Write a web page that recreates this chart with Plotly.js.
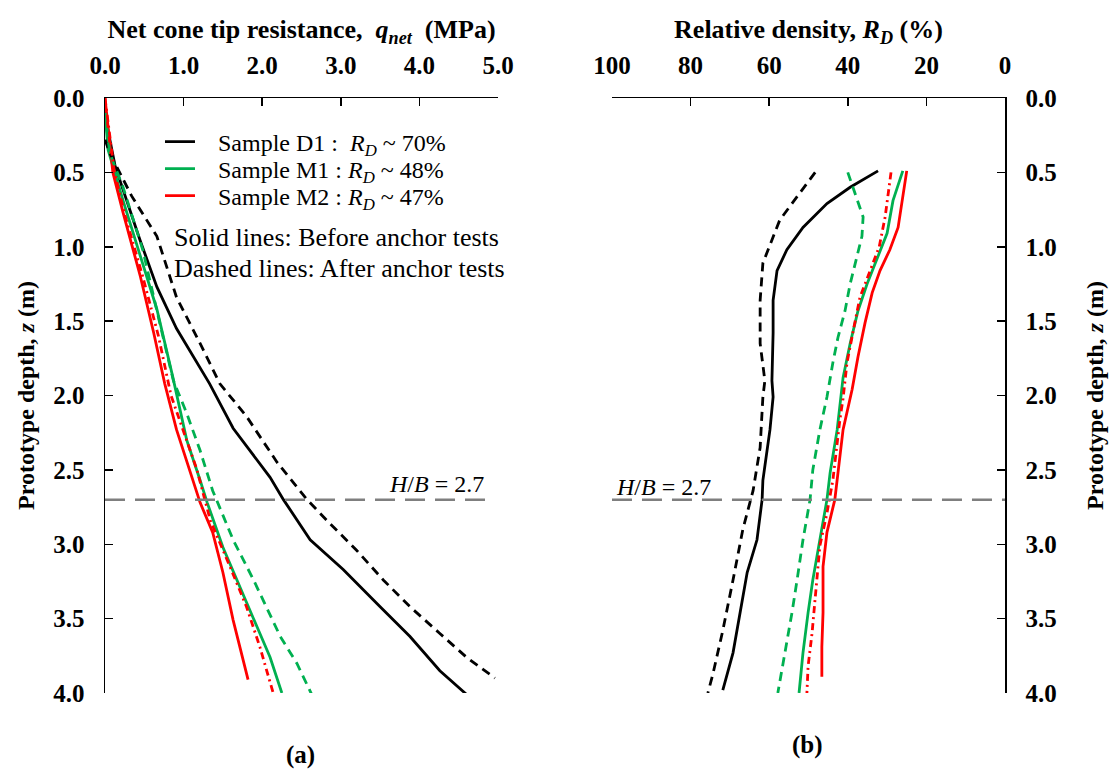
<!DOCTYPE html>
<html>
<head>
<meta charset="utf-8">
<script src="https://cdn.plot.ly/plotly-3.0.1.min.js"></script>
<style>html,body{margin:0;padding:0;background:#fff;}#chart{width:1118px;height:772px;}</style>
</head>
<body>
<div id="chart"></div>
<script>
// ---------- (a) Net cone tip resistance q_net (MPa) vs depth z (m) ----------
const D1_before_z = [0.05, 0.17, 0.46, 0.955, 1.27, 1.55, 1.92, 2.22, 2.55, 2.70, 2.97, 3.17, 3.42, 3.62, 3.85, 4.01];
const D1_before_q = [0.00, 0.02, 0.13, 0.445, 0.66, 0.91, 1.33, 1.63, 2.10, 2.27, 2.61, 3.03, 3.50, 3.88, 4.26, 4.60];
const D1_after_z  = [0.28, 0.37, 0.66, 0.93, 1.34, 1.65, 1.92, 2.14, 2.45, 2.70, 2.86, 3.04, 3.24, 3.42, 3.60, 3.76, 3.90];
const D1_after_q  = [0.00, 0.06, 0.34, 0.66, 0.91, 1.21, 1.46, 1.80, 2.19, 2.57, 2.86, 3.20, 3.54, 3.88, 4.26, 4.60, 4.96];
const M1_before_z = [0.10, 0.35, 0.69, 1.07, 1.42, 1.87, 2.30, 2.57, 2.72, 3.02, 3.29, 3.60, 3.76, 4.00];
const M1_before_q = [0.00, 0.04, 0.23, 0.45, 0.66, 0.86, 1.04, 1.21, 1.30, 1.50, 1.72, 1.97, 2.10, 2.25];
const M1_after_z  = [0.10, 0.37, 0.60, 1.02, 1.61, 1.90, 2.12, 2.37, 2.64, 2.97, 3.24, 3.62, 3.80, 4.01];
const M1_after_q  = [0.00, 0.06, 0.23, 0.48, 0.74, 0.87, 1.04, 1.21, 1.37, 1.63, 1.89, 2.23, 2.44, 2.63];
const M2_before_z = [0.00, 0.50, 0.77, 1.20, 1.58, 1.92, 2.23, 2.50, 2.72, 2.92, 3.19, 3.51, 3.78, 3.91];
const M2_before_q = [0.00, 0.10, 0.23, 0.45, 0.62, 0.76, 0.91, 1.08, 1.21, 1.37, 1.50, 1.63, 1.76, 1.82];
const M2_after_z  = [0.00, 0.50, 0.80, 1.20, 1.60, 2.00, 2.50, 2.84, 3.15, 3.42, 3.69, 4.00];
const M2_after_q  = [0.00, 0.12, 0.26, 0.48, 0.68, 0.84, 1.17, 1.34, 1.59, 1.80, 1.97, 2.14];

// ---------- (b) Relative density R_D (%) vs depth z (m) ----------
const D1_before_rz = [0.49, 0.60, 0.71, 0.87, 1.02, 1.16, 1.36, 1.58, 1.90, 2.01, 2.23, 2.57, 2.70, 2.97, 3.19, 3.46, 3.73, 3.98];
const D1_before_rd = [32.3, 39.4, 45.3, 51.4, 55.5, 58.0, 59.0, 59.0, 59.3, 59.0, 59.8, 61.6, 61.8, 63.1, 65.6, 67.4, 69.2, 71.8];
const D1_after_rz  = [0.50, 0.64, 0.82, 1.11, 1.36, 1.65, 1.90, 2.01, 2.35, 2.64, 2.90, 3.24, 3.58, 3.87, 4.00];
const D1_after_rd  = [48.3, 52.2, 57.3, 61.6, 62.3, 62.3, 61.1, 61.6, 62.3, 64.1, 66.7, 69.2, 71.8, 74.3, 75.6];
const M1_before_rz = [0.49, 0.69, 0.91, 1.09, 1.25, 1.43, 1.65, 1.88, 2.23, 2.52, 2.70, 2.97, 3.24, 3.46, 3.73, 4.00];
const M1_before_rd = [26.0, 28.5, 30.0, 32.6, 35.1, 37.4, 39.4, 41.2, 42.7, 44.5, 45.3, 47.1, 48.9, 50.1, 51.4, 52.4];
const M1_after_rz  = [0.50, 0.64, 0.80, 0.93, 1.07, 1.25, 1.43, 1.61, 1.78, 2.01, 2.23, 2.50, 2.70, 2.97, 3.24, 3.46, 3.73, 4.00];
const M1_after_rd  = [40.0, 38.2, 36.1, 36.4, 37.7, 39.4, 40.7, 42.5, 43.8, 45.3, 47.1, 48.9, 49.6, 51.4, 52.9, 54.2, 56.0, 57.8];
const M2_before_rz = [0.49, 0.69, 0.87, 1.02, 1.16, 1.31, 1.51, 1.74, 1.96, 2.23, 2.52, 2.70, 2.92, 3.15, 3.46, 3.69, 3.89];
const M2_before_rd = [25.0, 26.2, 27.2, 29.3, 31.8, 33.8, 35.6, 37.4, 38.9, 41.2, 42.5, 43.3, 45.3, 46.3, 46.3, 46.6, 46.6];
const M2_after_rz  = [0.50, 0.80, 1.00, 1.34, 1.51, 1.78, 2.02, 2.16, 2.57, 2.79, 3.01, 3.35, 3.60, 3.82, 4.00];
const M2_after_rd  = [29.0, 30.5, 32.0, 36.9, 38.2, 40.2, 41.2, 42.0, 43.8, 45.3, 47.1, 48.3, 49.1, 50.1, 50.4];

const legendNames = ['Sample D1 :&nbsp; <i>R<sub>D</sub></i> ~ 70%', 'Sample M1 : <i>R<sub>D</sub></i> ~ 48%', 'Sample M2 : <i>R<sub>D</sub></i> ~ 47%'];
const HB = 2.7;
const HB_label = '<i>H</i>/<i>B</i> = 2.7';

const SERIF = 'Liberation Serif, Times New Roman, serif';
const BLACK = '#000000', GREEN = '#00B050', RED = '#FF0000', GRAY = '#7F7F7F';
const DASH = '9px,6px', DASHDOT = '7px,4px,2px,4px';
const PAD = '\u00a0\u00a0\u00a0';

function tr(x, y, color, dash, xa, ya, name, leg) {
  const t = {x: x, y: y, mode: 'lines', type: 'scatter', xaxis: xa, yaxis: ya,
    line: {color: color, width: 2.8, dash: dash},
    name: name || '', showlegend: !!leg, hoverinfo: 'skip'};
  if (leg) t.legend = leg;
  return t;
}

const data = [
  tr(D1_before_q, D1_before_z, BLACK, 'solid', 'x', 'y', PAD + legendNames[0], 'legend'),
  tr(M1_before_q, M1_before_z, GREEN, 'solid', 'x', 'y', PAD + legendNames[1], 'legend2'),
  tr(M2_before_q, M2_before_z, RED, 'solid', 'x', 'y', PAD + legendNames[2], 'legend3'),
  tr(D1_after_q, D1_after_z, BLACK, DASH, 'x', 'y'),
  tr(M1_after_q, M1_after_z, GREEN, DASH, 'x', 'y'),
  tr(M2_after_q, M2_after_z, RED, DASHDOT, 'x', 'y'),
  tr(D1_before_rd, D1_before_rz, BLACK, 'solid', 'x2', 'y2'),
  tr(M1_before_rd, M1_before_rz, GREEN, 'solid', 'x2', 'y2'),
  tr(M2_before_rd, M2_before_rz, RED, 'solid', 'x2', 'y2'),
  tr(D1_after_rd, D1_after_rz, BLACK, DASH, 'x2', 'y2'),
  tr(M1_after_rd, M1_after_rz, GREEN, DASH, 'x2', 'y2'),
  tr(M2_after_rd, M2_after_rz, RED, DASHDOT, 'x2', 'y2')
];

const tickFont = {family: SERIF, size: 25, color: '#000', weight: 'bold'};
const titleFont = {family: SERIF, size: 26, color: '#000', weight: 'bold'};
const yTitleFont = {family: SERIF, size: 24, color: '#000', weight: 'bold'};

const baseX = {side: 'top', showline: true, linecolor: '#000', linewidth: 1.5, ticks: 'inside', ticklen: 8,
  tickwidth: 1.5, tickcolor: '#000', showgrid: false, zeroline: false, tickfont: tickFont, ticklabelstandoff: 13};
const baseY = {showline: true, linecolor: '#000', linewidth: 1.5, ticks: 'inside', ticklen: 8, tickwidth: 1.5,
  tickcolor: '#000', showgrid: false, zeroline: false, tickfont: tickFont, range: [4, 0], dtick: 0.5,
  tickformat: '.1f', ticklabelstandoff: 14};

function leg(yPix) {
  return {x: 0.0611, y: (693 - yPix) / 595, xanchor: 'left', yanchor: 'middle', bgcolor: 'rgba(0,0,0,0)',
    font: {family: SERIF, size: 24, color: '#000'}};
}

const layout = {
  width: 1118, height: 772,
  margin: {l: 105, r: 113, t: 98, b: 79},
  paper_bgcolor: '#fff', plot_bgcolor: 'rgba(0,0,0,0)',
  showlegend: true,
  legend: leg(142),
  legend2: leg(169),
  legend3: leg(196),
  xaxis: Object.assign({}, baseX, {domain: [0, 0.4367], range: [0, 5], dtick: 1, tickformat: '.1f', anchor: 'y',
    title: {text: 'Net cone tip resistance,  <i>q<sub>net</sub></i>  (MPa)', font: titleFont, standoff: 5}}),
  yaxis: Object.assign({}, baseY, {domain: [0, 1], anchor: 'x', side: 'left',
    title: {text: 'Prototype depth, <i>z</i> (m)', font: yTitleFont, standoff: 12}}),
  xaxis2: Object.assign({}, baseX, {domain: [0.5633, 1], range: [100, 0], dtick: 20, anchor: 'y2',
    title: {text: 'Relative density, <i>R<sub>D</sub></i> (%)', font: titleFont, standoff: 5}}),
  yaxis2: Object.assign({}, baseY, {domain: [0, 1], anchor: 'x2', side: 'right',
    title: {text: 'Prototype depth, <i>z</i> (m)', font: yTitleFont, standoff: 30}}),
  shapes: [
    {type: 'line', xref: 'x', yref: 'y', x0: 0, x1: 4.9, y0: HB, y1: HB,
      line: {color: GRAY, width: 2.5, dash: '20px,10px'}},
    {type: 'line', xref: 'x2', yref: 'y2', x0: 100, x1: 0, y0: HB, y1: HB,
      line: {color: GRAY, width: 2.5, dash: '20px,10px'}}
  ],
  annotations: [
    {xref: 'x', yref: 'y', x: 4.85, y: HB, xanchor: 'right', yanchor: 'bottom', yshift: 1, showarrow: false,
      text: HB_label, font: {family: SERIF, size: 24, color: '#000'}},
    {xref: 'x2', yref: 'y2', x: 99.5, y: HB, xanchor: 'left', yanchor: 'bottom', yshift: -2, showarrow: false,
      text: HB_label, font: {family: SERIF, size: 24, color: '#000'}},
    {xref: 'x', yref: 'y', x: 0.85, y: 0.935, xanchor: 'left', yanchor: 'middle', showarrow: false, align: 'left',
      text: 'Solid lines: Before anchor tests', font: {family: SERIF, size: 26, color: '#000'}},
    {xref: 'x', yref: 'y', x: 0.85, y: 1.145, xanchor: 'left', yanchor: 'middle', showarrow: false, align: 'left',
      text: 'Dashed lines: After anchor tests', font: {family: SERIF, size: 26, color: '#000'}},
    {xref: 'paper', yref: 'paper', x: 0.2167, y: -0.104, xanchor: 'center', yanchor: 'middle', showarrow: false,
      text: '<b>(a)</b>', font: {family: SERIF, size: 25, color: '#000'}},
    {xref: 'paper', yref: 'paper', x: 0.781, y: -0.087, xanchor: 'center', yanchor: 'middle', showarrow: false,
      text: '<b>(b)</b>', font: {family: SERIF, size: 25, color: '#000'}}
  ]
};

Plotly.newPlot('chart', data, layout, {displayModeBar: false, staticPlot: true});
</script>
</body>
</html>
